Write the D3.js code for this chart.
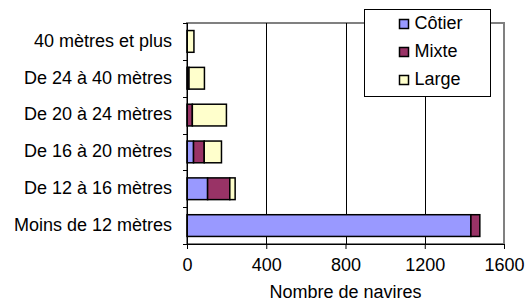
<!DOCTYPE html>
<html>
<head>
<meta charset="utf-8">
<script src="https://cdn.jsdelivr.net/npm/d3@7"></script>
<style>
  body { margin: 0; background: #fff; }
  text { font-family: "Liberation Sans", Arial, sans-serif; }
</style>
</head>
<body>
<svg id="chart"></svg>
<script>
const categories = ['Moins de 12 mètres', 'De 12 à 16 mètres', 'De 16 à 20 mètres',
                    'De 20 à 24 mètres', 'De 24 à 40 mètres', '40 mètres et plus'];
const series = ['Côtier', 'Mixte', 'Large'];
const cotier = [1433, 104, 33, 0, 0, 0];
const mixte = [45, 112, 54, 27, 10, 0];
const large = [0, 27, 87, 172, 78, 35];
const xTicks = [0, 400, 800, 1200, 1600];
const colors = ['#9999ff', '#993366', '#ffffcc'];

const W = 526, H = 307;
const margin = { top: 23, right: 22, bottom: 63, left: 187 };
const width = W - margin.left - margin.right;
const height = H - margin.top - margin.bottom;
const fs = 18;

const svg = d3.select('#chart')
              .attr('width', W)
              .attr('height', H);

const g = svg.append('g')
             .attr('transform', `translate(${margin.left},${margin.top})`);

const x = d3.scaleLinear().domain([0, 1600]).range([0, width]);
const y = d3.scaleBand()
            .domain(categories.slice().reverse())
            .range([0, height])
            .paddingInner(0.41)
            .paddingOuter(0.205);

// plot border (gray) and gridlines
g.append('rect')
 .attr('x', 0).attr('y', 0)
 .attr('width', width).attr('height', height)
 .attr('fill', 'none')
 .attr('stroke', '#808080')
 .attr('stroke-width', 2);

g.selectAll('.grid')
 .data(xTicks.slice(1, -1))
 .enter().append('line')
 .attr('x1', d => Math.round(x(d)) + 0.5).attr('x2', d => Math.round(x(d)) + 0.5)
 .attr('y1', 0).attr('y2', height)
 .attr('stroke', '#000');

// stacked bars
const rows = categories.map((c, i) => ({ cat: c, 'Côtier': cotier[i], 'Mixte': mixte[i], 'Large': large[i] }));
const stacked = d3.stack().keys(series)(rows);

stacked.forEach((layer, k) => {
  g.selectAll('.bar' + k)
   .data(layer.filter(d => d[1] - d[0] > 0))
   .enter().append('rect')
   .attr('x', d => x(d[0]))
   .attr('y', d => y(d.data.cat))
   .attr('width', d => x(d[1]) - x(d[0]))
   .attr('height', y.bandwidth())
   .attr('fill', colors[k])
   .attr('stroke', '#000')
   .attr('stroke-width', 1.5);
});

// X axis
const xAxis = g.append('g')
   .attr('transform', `translate(0,${height})`)
   .call(d3.axisBottom(x).tickValues(xTicks).tickFormat(d3.format('d'))
           .tickSize(5).tickPadding(9).tickSizeOuter(0));
xAxis.select('.domain').attr('stroke', '#000');
xAxis.selectAll('text').attr('font-size', fs).attr('fill', '#000')
     .attr('font-family', '"Liberation Sans", Arial, sans-serif');

// Y axis, ticks on category boundaries
const yAxis = g.append('g');
yAxis.append('line')
     .attr('x1', 0.5).attr('x2', 0.5)
     .attr('y1', 0).attr('y2', height + 5)
     .attr('stroke', '#000');
yAxis.selectAll('.ytick')
     .data(d3.range(categories.length + 1))
     .enter().append('line')
     .attr('x1', -4).attr('x2', 0)
     .attr('y1', i => Math.round(i * height / categories.length) + 0.5)
     .attr('y2', i => Math.round(i * height / categories.length) + 0.5)
     .attr('stroke', '#000');
yAxis.selectAll('.ylabel')
     .data(categories)
     .enter().append('text')
     .attr('x', -15)
     .attr('y', d => y(d) + y.bandwidth() / 2)
     .attr('dy', '0.3em')
     .attr('text-anchor', 'end')
     .attr('font-size', fs)
     .text(d => d);

// axis title
svg.append('text')
   .attr('x', margin.left + width / 2)
   .attr('y', 298)
   .attr('text-anchor', 'middle')
   .attr('font-size', fs)
   .text('Nombre de navires');

// legend
const legend = svg.append('g').attr('transform', 'translate(364.5,9.5)');
legend.append('rect')
      .attr('width', 126).attr('height', 87)
      .attr('fill', '#fff').attr('stroke', '#000');
series.forEach((s, i) => {
  const row = legend.append('g').attr('transform', `translate(35,${19 + i * 28})`);
  row.append('rect')
     .attr('x', 0).attr('y', -9)
     .attr('width', 9).attr('height', 9)
     .attr('fill', colors[i]).attr('stroke', '#000').attr('stroke-width', 1.5);
  row.append('text')
     .attr('x', 15).attr('y', 0)
     .attr('font-size', fs)
     .text(s);
});
</script>
</body>
</html>
